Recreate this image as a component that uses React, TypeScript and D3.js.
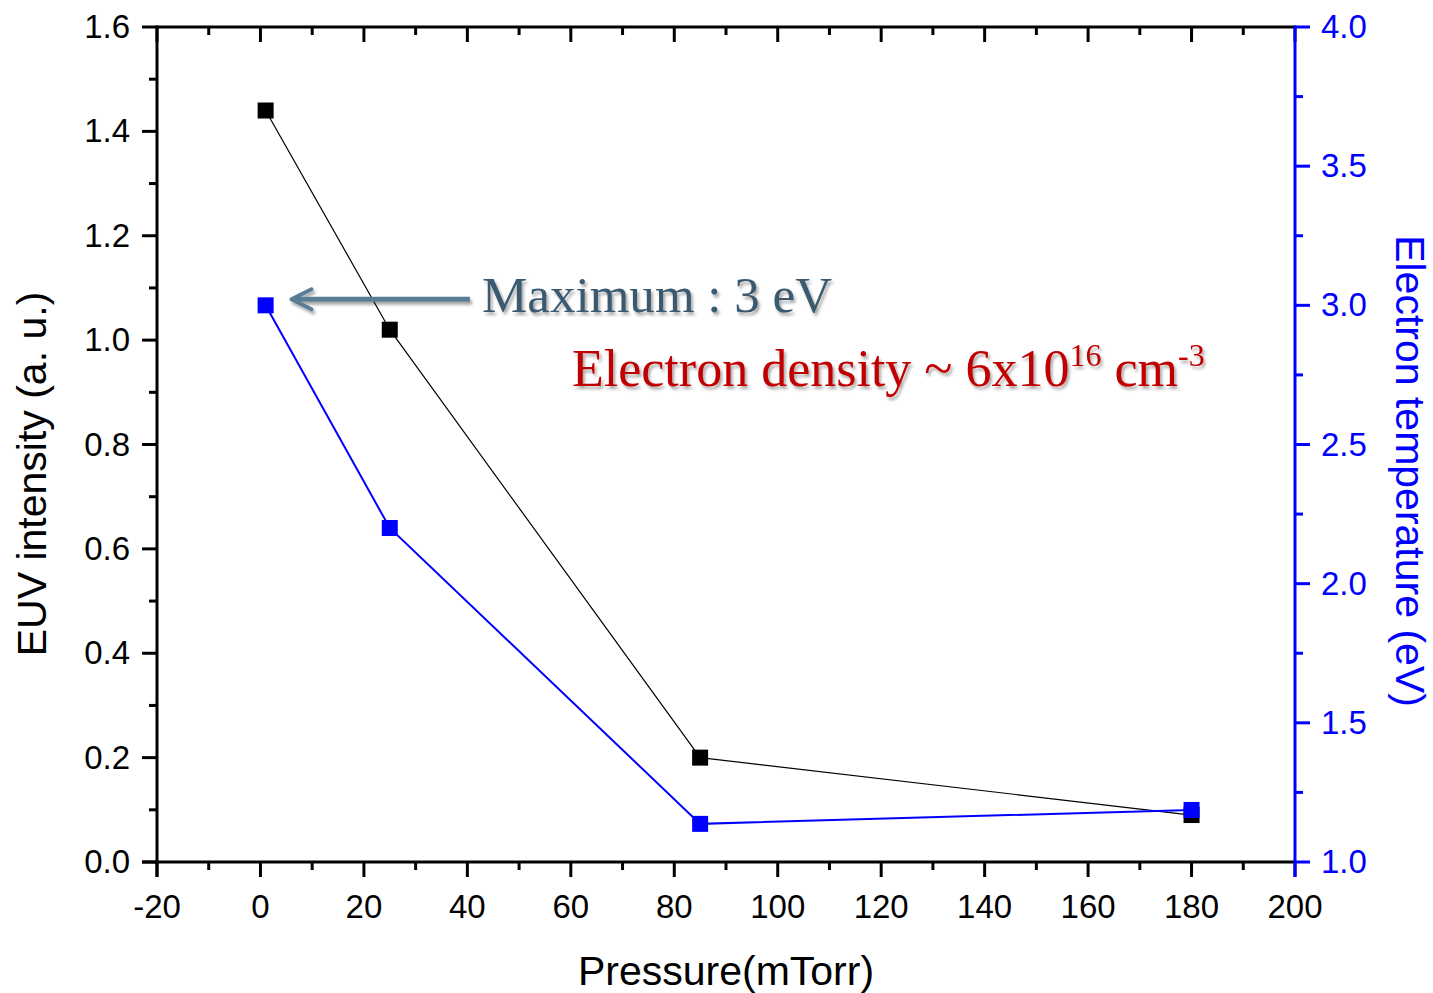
import React from 'react';
import * as d3 from 'd3';

const pressure = [1, 25, 85, 180];
const euvIntensity = [1.44, 1.02, 0.2, 0.09];
const electronTemp = [3.0, 2.2, 1.137, 1.187];

const xTicks = [-20, 0, 20, 40, 60, 80, 100, 120, 140, 160, 180, 200];
const yLeftTicks = [0.0, 0.2, 0.4, 0.6, 0.8, 1.0, 1.2, 1.4, 1.6];
const yRightTicks = [1.0, 1.5, 2.0, 2.5, 3.0, 3.5, 4.0];

const WIDTH = 1433;
const HEIGHT = 993;
const LEFT = 157;
const RIGHT = 1295;
const TOP = 27;
const BOTTOM = 862;

const BLUE = '#0000ff';
const FONT = 'Liberation Sans, Arial, sans-serif';
const SERIF = 'Liberation Serif, Georgia, serif';

const App = () => {
  const x = d3.scaleLinear().domain([-20, 200]).range([LEFT, RIGHT]);
  const yL = d3.scaleLinear().domain([0, 1.6]).range([BOTTOM, TOP]);
  const yR = d3.scaleLinear().domain([1, 4]).range([BOTTOM, TOP]);

  const xMinor = d3.range(-10, 200, 20);
  const yLMinor = d3.range(0.1, 1.6, 0.2);
  const yRMinor = d3.range(1.25, 4, 0.5);

  const blackLine = d3.line<number>()
    .x((d, i) => x(pressure[i]))
    .y(d => yL(d))(euvIntensity);
  const blueLine = d3.line<number>()
    .x((d, i) => x(pressure[i]))
    .y(d => yR(d))(electronTemp);

  // arrow pointing at the temperature maximum
  const arrowY = yR(3.0) - 6;
  const arrowTip = x(6);
  const arrowEnd = x(40.5);

  return (
    <svg width={WIDTH} height={HEIGHT} style={{ position: 'absolute', left: 0, top: 0, background: '#fff' }}>
      <defs>
        <filter id="shadow" x="-5%" y="-20%" width="110%" height="150%">
          <feDropShadow dx="2" dy="3" stdDeviation="1.5" floodColor="#000" floodOpacity="0.35" />
        </filter>
      </defs>

      {/* series */}
      <path d={blackLine || ''} fill="none" stroke="#000" strokeWidth={1.2} />
      <path d={blueLine || ''} fill="none" stroke={BLUE} strokeWidth={2} />
      {euvIntensity.map((v, i) => (
        <rect key={`b${i}`} x={x(pressure[i]) - 8} y={yL(v) - 8} width={16} height={16} fill="#000" />
      ))}
      {electronTemp.map((v, i) => (
        <rect key={`u${i}`} x={x(pressure[i]) - 8} y={yR(v) - 8} width={16} height={16} fill={BLUE} />
      ))}

      {/* top axis */}
      <line x1={LEFT} x2={RIGHT} y1={TOP} y2={TOP} stroke="#000" strokeWidth={3} />
      {xTicks.map(t => (
        <line key={`tt${t}`} x1={x(t)} x2={x(t)} y1={TOP} y2={TOP + 15} stroke="#000" strokeWidth={3} />
      ))}
      {xMinor.map(t => (
        <line key={`tm${t}`} x1={x(t)} x2={x(t)} y1={TOP} y2={TOP + 8} stroke="#000" strokeWidth={3} />
      ))}

      {/* bottom axis */}
      <line x1={LEFT - 15} x2={RIGHT} y1={BOTTOM} y2={BOTTOM} stroke="#000" strokeWidth={3} />
      {xTicks.map(t => (
        <g key={`bx${t}`}>
          <line x1={x(t)} x2={x(t)} y1={BOTTOM} y2={BOTTOM + 15} stroke="#000" strokeWidth={3} />
          <text x={x(t)} y={BOTTOM + 56} textAnchor="middle" fontFamily={FONT} fontSize={33}>{t}</text>
        </g>
      ))}
      {xMinor.map(t => (
        <line key={`bm${t}`} x1={x(t)} x2={x(t)} y1={BOTTOM} y2={BOTTOM + 8} stroke="#000" strokeWidth={3} />
      ))}

      {/* left axis */}
      <line x1={LEFT} x2={LEFT} y1={TOP - 1.5} y2={BOTTOM + 15} stroke="#000" strokeWidth={3} />
      {yLeftTicks.map(t => (
        <g key={`ly${t}`}>
          <line x1={LEFT - 15} x2={LEFT} y1={yL(t)} y2={yL(t)} stroke="#000" strokeWidth={3} />
          <text x={LEFT - 27} y={yL(t) + 11} textAnchor="end" fontFamily={FONT} fontSize={33}>{t.toFixed(1)}</text>
        </g>
      ))}
      {yLMinor.map(t => (
        <line key={`lm${t}`} x1={LEFT - 8} x2={LEFT} y1={yL(t)} y2={yL(t)} stroke="#000" strokeWidth={3} />
      ))}

      {/* right axis */}
      <line x1={RIGHT} x2={RIGHT} y1={TOP - 1.5} y2={BOTTOM + 15} stroke={BLUE} strokeWidth={3} />
      {yRightTicks.map(t => (
        <g key={`ry${t}`}>
          <line x1={RIGHT} x2={RIGHT + 15} y1={yR(t)} y2={yR(t)} stroke={BLUE} strokeWidth={3} />
          <text x={RIGHT + 26} y={yR(t) + 11} textAnchor="start" fontFamily={FONT} fontSize={33} fill={BLUE}>{t.toFixed(1)}</text>
        </g>
      ))}
      {yRMinor.map(t => (
        <line key={`rm${t}`} x1={RIGHT} x2={RIGHT + 8} y1={yR(t)} y2={yR(t)} stroke={BLUE} strokeWidth={3} />
      ))}

      {/* axis titles */}
      <text x={726} y={985} textAnchor="middle" fontFamily={FONT} fontSize={41}>Pressure(mTorr)</text>
      <text transform={`translate(46,474) rotate(-90)`} textAnchor="middle" fontFamily={FONT} fontSize={41}>
        EUV intensity (a. u.)
      </text>
      <text transform={`translate(1396,471) rotate(90)`} textAnchor="middle" fontFamily={FONT} fontSize={41} fill={BLUE}>
        Electron temperature (eV)
      </text>

      {/* annotations */}
      <g filter="url(#shadow)">
        <line x1={arrowTip + 2} x2={arrowEnd} y1={arrowY} y2={arrowY} stroke="#587d94" strokeWidth={5} />
        <path
          d={`M${arrowTip + 20},${arrowY - 10} L${arrowTip},${arrowY} L${arrowTip + 20},${arrowY + 10}`}
          fill="none"
          stroke="#587d94"
          strokeWidth={4}
          strokeLinecap="round"
          strokeLinejoin="round"
        />
        <text x={482} y={312} fontFamily={SERIF} fontSize={50} fill="#3a5a70" textLength={350} lengthAdjust="spacingAndGlyphs">
          Maximum : 3 eV
        </text>
        <text x={572} y={386} fontFamily={SERIF} fontSize={52} fill="#c00000">
          Electron density ~ 6x10
          <tspan fontSize={32} dy={-20}>16</tspan>
          <tspan dy={20}> cm</tspan>
          <tspan fontSize={32} dy={-20}>-3</tspan>
        </text>
      </g>
    </svg>
  );
};

export default App;
